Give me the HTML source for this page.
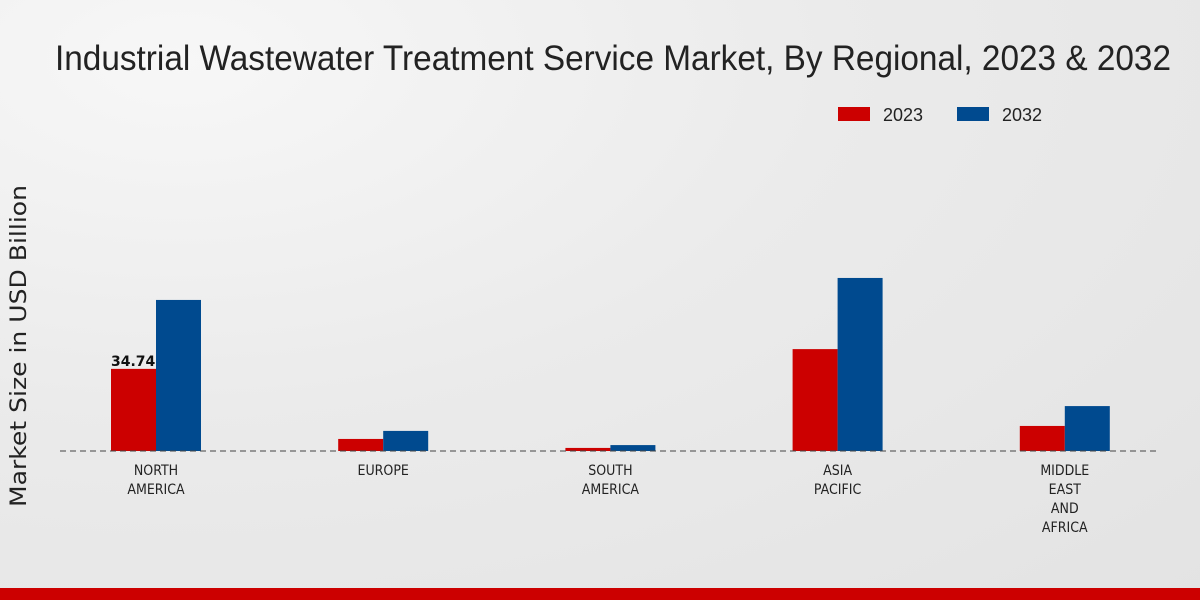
<!DOCTYPE html>
<html><head><meta charset="utf-8"><style>
body{margin:0;width:1200px;height:600px;overflow:hidden;font-family:"Liberation Sans",sans-serif;}
#bg{position:absolute;left:0;top:0;width:1200px;height:600px;background:radial-gradient(ellipse at 15% 10%,#f7f7f7 0%,#ebebeb 45%,#e3e3e3 100%);}
</style></head><body>
<div id="bg"></div>
<svg id="c" width="1200" height="600" style="position:absolute;left:0;top:0">
<text x="613" y="70" text-anchor="middle" font-family="Liberation Sans Narrow, Liberation Sans, sans-serif" font-size="35" fill="#222" textLength="1116" lengthAdjust="spacingAndGlyphs">Industrial Wastewater Treatment Service Market, By Regional, 2023 &amp; 2032</text>
<g>
<rect x="838" y="107" width="32" height="14" fill="#cc0000"/>
<text x="883" y="121" font-size="18" fill="#222" font-family="Liberation Sans Narrow, Liberation Sans, sans-serif">2023</text>
<rect x="957" y="107" width="32" height="14" fill="#004a8f"/>
<text x="1002" y="121" font-size="18" fill="#222" font-family="Liberation Sans Narrow, Liberation Sans, sans-serif">2032</text>
</g>
<text transform="translate(26,346) rotate(-90)" text-anchor="middle" font-size="22" fill="#222" font-family="DejaVu Sans, sans-serif" textLength="322" lengthAdjust="spacingAndGlyphs">Market Size in USD Billion</text>
<g id="bars"></g>
<line x1="60" y1="451" x2="1160" y2="451" stroke="#444" stroke-dasharray="6,4"/>
<rect x="0" y="588" width="1200" height="12" fill="#cc0000"/>
</svg>
<script>
const categories=[["NORTH","AMERICA"],["EUROPE"],["SOUTH","AMERICA"],["ASIA","PACIFIC"],["MIDDLE","EAST","AND","AFRICA"]];
const values2023=[34.74,5.1,1.3,43.1,10.6];
const values2032=[63.9,8.5,2.5,73.2,19.0];
const ns="http://www.w3.org/2000/svg";
const g=document.getElementById('bars');
const base=451,scale=2.364;
const xc=i=>156+i*227.2;
const y=v=>base-v*scale;
function mk(t,a){const e=document.createElementNS(ns,t);for(const k in a)e.setAttribute(k,a[k]);g.appendChild(e);return e;}
categories.forEach((c,i)=>{
 const r1=mk('rect',{x:xc(i)-45,y:y(values2023[i]),width:45,height:values2023[i]*scale,fill:'#cc0000'});
 
 
 const r2=mk('rect',{x:xc(i),y:y(values2032[i]),width:45,height:values2032[i]*scale,fill:'#004a8f'});
 
 
 c.forEach((l,j)=>{
  const t=mk('text',{x:xc(i),y:475+j*19,'text-anchor':'middle','font-size':14,fill:'#222','font-family':'DejaVu Sans Condensed, DejaVu Sans, sans-serif'});
  t.textContent=l;
  
  
 });
});
const lb=mk('text',{x:xc(0)-45,y:y(values2023[0])-3,'font-size':14,'font-weight':'bold',fill:'#111','font-family':'DejaVu Sans, sans-serif'});
lb.textContent=values2023[0].toFixed(2);


</script>
</body></html>
